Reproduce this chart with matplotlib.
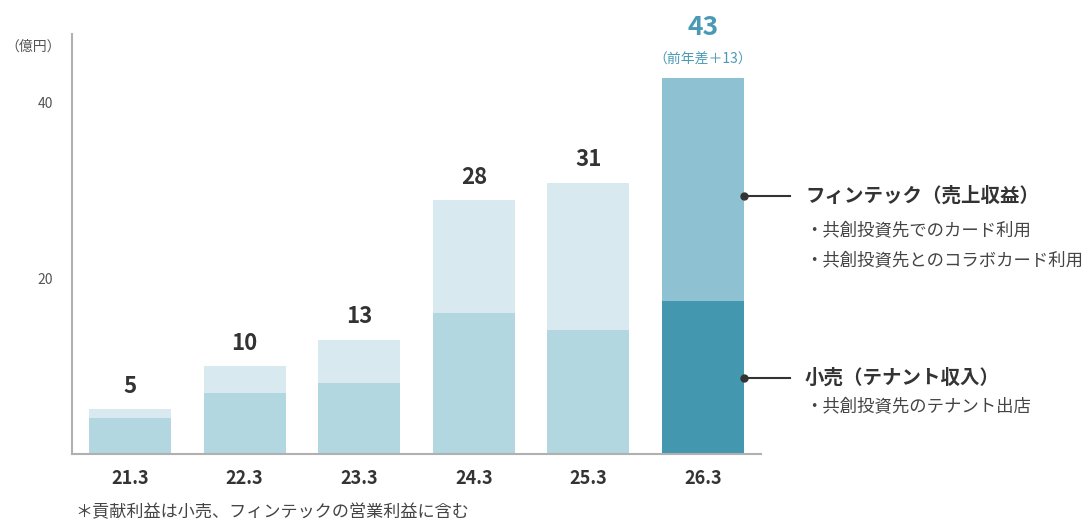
import matplotlib
matplotlib.use('Agg')
import matplotlib.pyplot as plt
import numpy as np

plt.rcParams['font.family'] = ['Noto Sans CJK JP', 'DejaVu Sans']

# ---- データ（億円） ----
years = ['21.3', '22.3', '23.3', '24.3', '25.3', '26.3']
retail = [4.1, 7.0, 8.1, 16.0, 14.1, 17.4]      # 小売（テナント収入）
fintech = [1.0, 3.0, 4.9, 12.9, 16.8, 25.4]     # フィンテック（売上収益）
totals = ['5', '10', '13', '28', '31', '43']
yticks = [20, 40]

# 色
c_retail = '#b3d7e0'
c_fin = '#d8e9ef'
c_retail_last = '#4397ae'
c_fin_last = '#8ec2d2'
c_accent = '#4a9ab5'
c_text = '#333333'

fig = plt.figure(figsize=(10.91, 5.21), dpi=100)
ax = fig.add_axes([0.066, 0.1286, 0.6315, 0.806])

x = np.arange(len(years))
w = 0.716
col_r = [c_retail] * 5 + [c_retail_last]
col_f = [c_fin] * 5 + [c_fin_last]
ax.bar(x, retail, width=w, color=col_r, zorder=2)
ax.bar(x, fintech, width=w, bottom=retail, color=col_f, zorder=2)

ax.set_xlim(-0.506, 5.506)
ax.set_ylim(0, 47.8)

for s in ['top', 'right']:
    ax.spines[s].set_visible(False)
for s in ['left', 'bottom']:
    ax.spines[s].set_color('#b0b0b0')
    ax.spines[s].set_linewidth(1.5)

ax.set_xticks(x)
ax.set_xticklabels(years, fontsize=13, fontweight='bold', color=c_text)
ax.tick_params(axis='x', length=0, pad=10.5)
ax.set_yticks(yticks)
ax.set_yticklabels([str(v) for v in yticks], fontsize=10, color='#555555')
ax.tick_params(axis='y', length=0, pad=13.5)

fig.text(5 / 1091, 1 - 47 / 521, '（億円）', fontsize=10, color='#555555',
         va='center', ha='left')

# 合計ラベル
for i in range(5):
    top = retail[i] + fintech[i]
    ax.text(x[i], top + 1.3, totals[i], ha='center', va='bottom',
            fontsize=16, fontweight='bold', color=c_text)
top_last = retail[5] + fintech[5]
ax.text(x[5], top_last + 4.2, totals[5], ha='center', va='bottom',
        fontsize=19, fontweight='bold', color=c_accent)
ax.text(x[5], top_last + 1.3, '（前年差＋13）', ha='center', va='bottom',
        fontsize=10, color=c_accent)

# 凡例（注記）
x_edge = x[5] + w / 2
y_fin = retail[5] + fintech[5] * 0.47
y_ret = retail[5] / 2
for yy in [y_fin, y_ret]:
    ax.plot([x_edge, 5.76], [yy, yy], color='#333333', lw=1.5,
            clip_on=False, zorder=3)
    ax.plot([x_edge], [yy], 'o', color='#333333', ms=5, clip_on=False, zorder=3)

tx = 5.89
ax.text(tx, y_fin, 'フィンテック（売上収益）', fontsize=14, fontweight='bold',
        color=c_text, va='center', ha='left', clip_on=False)
ax.text(tx, y_fin - 3.9, '・共創投資先でのカード利用', fontsize=12.5,
        color='#444444', va='center', ha='left', clip_on=False)
ax.text(tx, y_fin - 7.3, '・共創投資先とのコラボカード利用', fontsize=12.5,
        color='#444444', va='center', ha='left', clip_on=False)
ax.text(tx, y_ret, '小売（テナント収入）', fontsize=14, fontweight='bold',
        color=c_text, va='center', ha='left', clip_on=False)
ax.text(tx, y_ret - 3.3, '・共創投資先のテナント出店', fontsize=12.5,
        color='#444444', va='center', ha='left', clip_on=False)

fig.text(75 / 1091, 1 - 512 / 521, '＊貢献利益は小売、フィンテックの営業利益に含む',
         fontsize=12.3, color='#444444', va='center', ha='left')

fig.savefig('out.png', dpi=100)
